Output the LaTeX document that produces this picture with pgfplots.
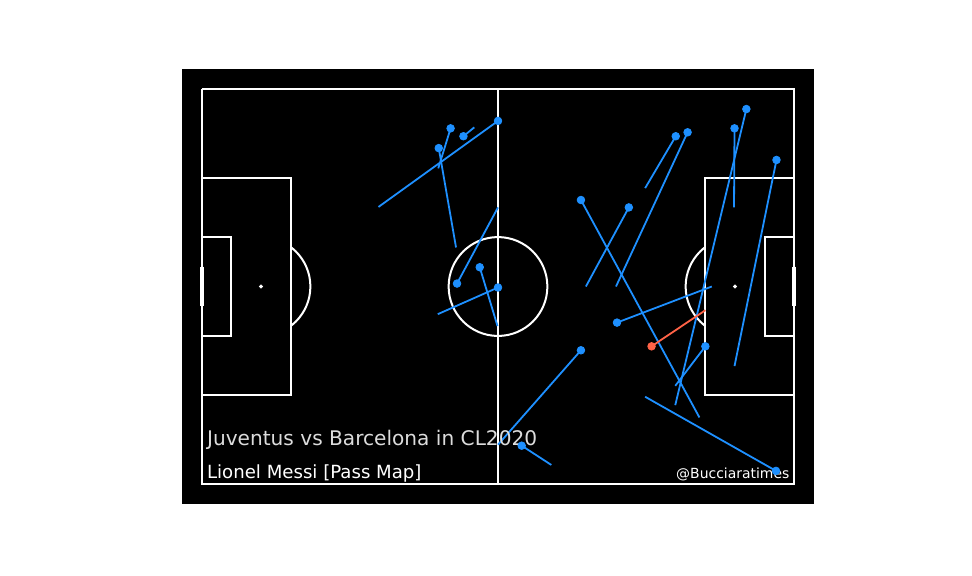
\documentclass[border=0pt]{standalone}
\usepackage{pgfplots}
\pgfplotsset{compat=1.18}
\usepackage{fontspec}
\setmainfont{DejaVu Sans}
\definecolor{passblue}{HTML}{1E90FF}
\definecolor{passred}{HTML}{FF6347}
\definecolor{titlegray}{HTML}{DCDCDC}
\tikzset{
  pitch/.style={white, line width=1bp},
  pass/.style={passblue, line width=0.9bp, mark=none},
}
\begin{document}
\begin{tikzpicture}
\fill[white] (0,0) rectangle (486bp,288bp);
\begin{axis}[
  at={(91bp,36bp)}, anchor=south west,
  scale only axis, width=316bp, height=217.5bp,
  xmin=-4, xmax=124, ymin=-4, ymax=84,
  y dir=reverse,
  axis background/.style={fill=black},
  axis line style={draw=none},
  ticks=none,
  clip=false,
]
% pitch outline and halfway line
\addplot[pitch] coordinates {(0,0) (120,0) (120,80) (0,80) (0,0)};
\addplot[pitch] coordinates {(60,0) (60,80)};
% penalty boxes
\addplot[pitch] coordinates {(0,18) (18,18) (18,62) (0,62)};
\addplot[pitch] coordinates {(120,18) (102,18) (102,62) (120,62)};
% six-yard boxes
\addplot[pitch] coordinates {(0,30) (6,30) (6,50) (0,50)};
\addplot[pitch] coordinates {(120,30) (114,30) (114,50) (120,50)};
% goals
\addplot[white, line width=2bp] coordinates {(0,36) (0,44)};
\addplot[white, line width=2bp] coordinates {(120,36) (120,44)};
% centre circle
\draw[pitch] (axis cs:60,40) circle[radius=10];
% penalty arcs
\begin{scope}
\clip (axis cs:18,-4) rectangle (axis cs:60,84);
\draw[pitch] (axis cs:12,40) circle[radius=10];
\end{scope}
\begin{scope}
\clip (axis cs:60,-4) rectangle (axis cs:102,84);
\draw[pitch] (axis cs:108,40) circle[radius=10];
\end{scope}
% spots
\addplot[only marks, mark=*, mark size=0.8bp, white] coordinates {(12,40) (108,40) (60,40)};

% passes (line from start to end, dot at end)
\addplot[pass] coordinates {(35.8,23.9) (60.0,6.5)};
\addplot[pass] coordinates {(47.9,16.1) (50.4,8.0)};
\addplot[pass] coordinates {(51.5,32.1) (48.0,12.0)};
\addplot[pass] coordinates {(55.2,7.8) (53.0,9.6)};
\addplot[pass] coordinates {(60.0,24.0) (51.7,39.4)};
\addplot[pass] coordinates {(59.9,48.0) (56.3,36.1)};
\addplot[pass] coordinates {(47.8,45.6) (60.0,40.2)};
\addplot[pass] coordinates {(100.8,66.5) (76.8,22.5)};
\addplot[pass] coordinates {(77.8,40.0) (86.5,24.0)};
\addplot[pass] coordinates {(89.8,20.1) (96.0,9.6)};
\addplot[pass] coordinates {(83.9,40.0) (98.4,8.8)};
\addplot[pass] coordinates {(107.8,24.0) (107.9,8.0)};
\addplot[pass] coordinates {(95.9,64.0) (110.3,4.1)};
\addplot[pass] coordinates {(107.9,56.1) (116.4,14.4)};
\addplot[pass] coordinates {(103.3,40.0) (84.1,47.3)};
\addplot[pass] coordinates {(95.9,60.1) (102.0,52.1)};
\addplot[pass] coordinates {(60.0,72.0) (76.8,52.9)};
\addplot[pass] coordinates {(70.8,76.1) (64.8,72.2)};
\addplot[pass] coordinates {(89.8,62.3) (116.3,77.3)};
\addplot[passred, line width=0.9bp, mark=none] coordinates {(102.0,44.8) (91.1,52.1)};

% end-point dots
\addplot[only marks, mark=*, mark size=1.9bp, passblue, mark options={draw=passblue, fill=passblue}] coordinates {
(60.0,6.5) (50.4,8.0) (48.0,12.0) (53.0,9.6) (51.7,39.4) (56.3,36.1) (60.0,40.2)
(76.8,22.5) (86.5,24.0) (96.0,9.6) (98.4,8.8) (107.9,8.0) (110.3,4.1) (116.4,14.4)
(84.1,47.3) (102.0,52.1) (76.8,52.9) (64.8,72.2) (116.3,77.3)};
\addplot[only marks, mark=*, mark size=1.9bp, passred, mark options={draw=passred, fill=passred}] coordinates {(91.1,52.1)};

% texts
\node[anchor=base west, inner sep=0pt, text=titlegray, font=\fontsize{10.1}{12}\selectfont] at (axis cs:1.0,72.1) {Juventus vs Barcelona in CL2020};
\node[anchor=base west, inner sep=0pt, text=white, font=\fontsize{9.1}{11}\selectfont] at (axis cs:1.0,78.8) {Lionel Messi [Pass Map]};
\node[anchor=base east, inner sep=0pt, text=white, font=\fontsize{7}{8.5}\selectfont] at (axis cs:119.1,78.9) {@Bucciaratimes};
\end{axis}
\end{tikzpicture}
\end{document}
